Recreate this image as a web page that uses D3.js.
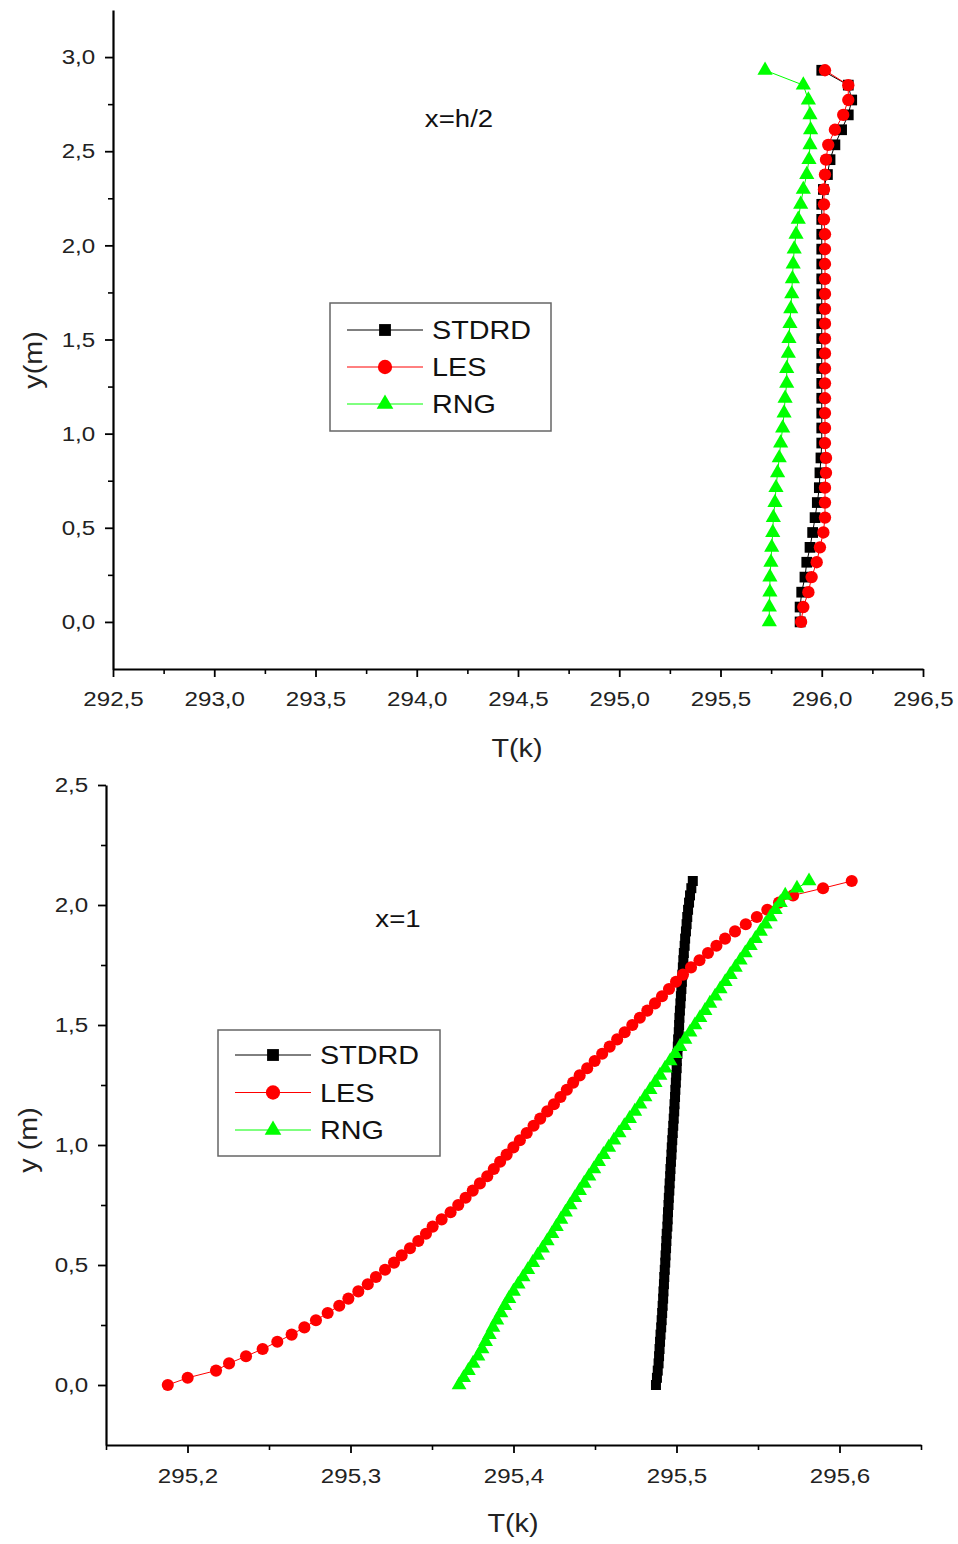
<!DOCTYPE html>
<html><head><meta charset="utf-8">
<script src="https://cdn.jsdelivr.net/npm/d3@7"></script>
<style>
body{margin:0;background:#fff}
svg{display:block}
text{font-family:"Liberation Sans",Arial,sans-serif}
</style>
</head><body>
<svg id="c" width="958" height="1544"></svg>
<script>
// ---------- data ----------
const seriesNames = ["STDRD", "LES", "RNG"];
const seriesColors = ["#000000", "#ff0000", "#00ff00"];

// top panel (x = h/2)
const topY = [0, 0.079, 0.158, 0.238, 0.317, 0.396, 0.475, 0.554, 0.634, 0.713, 0.792, 0.871, 0.950, 1.030, 1.109, 1.188, 1.267, 1.346, 1.426, 1.505, 1.584, 1.663, 1.742, 1.822, 1.901, 1.980, 2.059, 2.138, 2.218, 2.297, 2.376, 2.455, 2.534, 2.614, 2.693, 2.772, 2.851, 2.930];
const topSTDRD = [295.893, 295.893, 295.901, 295.917, 295.926, 295.942, 295.955, 295.967, 295.978, 295.988, 295.991, 295.996, 296.000, 296.000, 296.000, 296.000, 296.000, 296.000, 296.000, 296.000, 296.000, 296.000, 296.000, 296.000, 296.000, 296.000, 296.000, 296.000, 296.000, 296.008, 296.028, 296.041, 296.065, 296.098, 296.131, 296.148, 296.131, 296.000];
const topLES = [295.898, 295.909, 295.934, 295.950, 295.975, 295.991, 296.008, 296.016, 296.016, 296.016, 296.021, 296.021, 296.016, 296.016, 296.016, 296.016, 296.016, 296.016, 296.016, 296.016, 296.016, 296.016, 296.016, 296.016, 296.016, 296.016, 296.016, 296.011, 296.011, 296.011, 296.016, 296.021, 296.032, 296.065, 296.106, 296.131, 296.131, 296.016];
const topRNG = [295.741, 295.741, 295.744, 295.744, 295.749, 295.753, 295.758, 295.761, 295.769, 295.774, 295.782, 295.790, 295.797, 295.807, 295.814, 295.819, 295.827, 295.827, 295.835, 295.838, 295.843, 295.847, 295.852, 295.855, 295.859, 295.864, 295.873, 295.884, 295.896, 295.909, 295.926, 295.937, 295.942, 295.945, 295.942, 295.934, 295.909, 295.720];
const topXTicks = [292.5, 293.0, 293.5, 294.0, 294.5, 295.0, 295.5, 296.0, 296.5];
const topXMinor = [292.75, 293.25, 293.75, 294.25, 294.75, 295.25, 295.75, 296.25];
const topYTicks = [0.0, 0.5, 1.0, 1.5, 2.0, 2.5, 3.0];
const topYMinor = [0.25, 0.75, 1.25, 1.75, 2.25, 2.75];

// bottom panel (x = 1)
const botY = [0, 0.03, 0.06, 0.09, 0.12, 0.15, 0.18, 0.21, 0.24, 0.27, 0.30, 0.33, 0.36, 0.39, 0.42, 0.45, 0.48, 0.51, 0.54, 0.57, 0.60, 0.63, 0.66, 0.69, 0.72, 0.75, 0.78, 0.81, 0.84, 0.87, 0.90, 0.93, 0.96, 0.99, 1.02, 1.05, 1.08, 1.11, 1.14, 1.17, 1.20, 1.23, 1.26, 1.29, 1.32, 1.35, 1.38, 1.41, 1.44, 1.47, 1.50, 1.53, 1.56, 1.59, 1.62, 1.65, 1.68, 1.71, 1.74, 1.77, 1.80, 1.83, 1.86, 1.89, 1.92, 1.95, 1.98, 2.01, 2.04, 2.07, 2.10];
const botSTDRD = [295.4874, 295.4880, 295.4885, 295.4890, 295.4893, 295.4896, 295.4899, 295.4902, 295.4906, 295.4909, 295.4912, 295.4915, 295.4918, 295.4920, 295.4923, 295.4925, 295.4928, 295.4931, 295.4933, 295.4936, 295.4938, 295.4940, 295.4944, 295.4946, 295.4948, 295.4951, 295.4953, 295.4956, 295.4958, 295.4961, 295.4963, 295.4966, 295.4969, 295.4971, 295.4974, 295.4977, 295.4980, 295.4983, 295.4986, 295.4988, 295.4991, 295.4993, 295.4996, 295.4998, 295.5001, 295.5002, 295.5006, 295.5008, 295.5010, 295.5014, 295.5016, 295.5018, 295.5021, 295.5024, 295.5027, 295.5030, 295.5033, 295.5036, 295.5039, 295.5042, 295.5045, 295.5050, 295.5053, 295.5058, 295.5062, 295.5066, 295.5071, 295.5077, 295.5083, 295.5091, 295.5100];
const botLES = [295.1879, 295.2001, 295.2175, 295.2255, 295.2359, 295.2461, 295.2551, 295.2639, 295.2717, 295.2788, 295.2860, 295.2931, 295.2987, 295.3048, 295.3106, 295.3156, 295.3212, 295.3267, 295.3314, 295.3365, 295.3416, 295.3463, 295.3504, 295.3559, 295.3614, 295.3661, 295.3706, 295.3750, 295.3794, 295.3839, 295.3879, 295.3918, 295.3958, 295.3999, 295.4039, 295.4081, 295.4123, 295.4164, 295.4207, 295.4248, 295.4288, 295.4327, 295.4366, 295.4406, 295.4452, 295.4498, 295.4544, 295.4590, 295.4636, 295.4682, 295.4729, 295.4775, 295.4821, 295.4868, 295.4911, 295.4954, 295.4997, 295.5040, 295.5089, 295.5141, 295.5193, 295.5245, 295.5298, 295.5359, 295.5425, 295.5493, 295.5557, 295.5629, 295.5715, 295.5899, 295.6075];
const botRNG = [295.3666, 295.3694, 295.3723, 295.3752, 295.3782, 295.3807, 295.3829, 295.3852, 295.3874, 295.3898, 295.3923, 295.3947, 295.3972, 295.4000, 295.4029, 295.4059, 295.4088, 295.4118, 295.4148, 295.4178, 295.4207, 295.4236, 295.4263, 295.4291, 295.4319, 295.4348, 295.4376, 295.4405, 295.4434, 295.4463, 295.4493, 295.4522, 295.4552, 295.4584, 295.4616, 295.4648, 295.4680, 295.4712, 295.4744, 295.4776, 295.4807, 295.4838, 295.4869, 295.4899, 295.4930, 295.4961, 295.4991, 295.5021, 295.5052, 295.5083, 295.5113, 295.5144, 295.5175, 295.5205, 295.5237, 295.5268, 295.5299, 295.5330, 295.5361, 295.5391, 295.5422, 295.5453, 295.5484, 295.5515, 295.5545, 295.5576, 295.5606, 295.5637, 295.5667, 295.5739, 295.5813];
const botXTicks = [295.2, 295.3, 295.4, 295.5, 295.6];
const botXMinor = [295.15, 295.25, 295.35, 295.45, 295.55, 295.65];
const botYTicks = [0.0, 0.5, 1.0, 1.5, 2.0, 2.5];
const botYMinor = [0.25, 0.75, 1.25, 1.75, 2.25];

const xTitle = "T(k)";
const topYTitle = "y(m)";
const botYTitle = "y (m)";
const topLabel = "x=h/2";
const botLabel = "x=1";

// ---------- drawing ----------
const svg = d3.select("#c");
svg.append("rect").attr("width", 958).attr("height", 1544).attr("fill", "#fff");
const fmt = v => d3.format(".1f")(v).replace(".", ",");
const SX = 1.15;           // horizontal stretch of glyphs in the reference
const INK = "#222";
const symbols = [d3.symbolSquare, d3.symbolCircle, d3.symbolTriangle];

function stretchText(sel) {
  sel.each(function () {
    const t = d3.select(this);
    const x = +t.attr("x") || 0, y = +t.attr("y") || 0;
    t.attr("x", 0).attr("y", 0).attr("transform", `translate(${x},${y}) scale(${SX},1)`);
  });
}

function panel(cfg) {
  const x = d3.scaleLinear().domain(cfg.xDomain).range(cfg.xRange);
  const y = d3.scaleLinear().domain(cfg.yDomain).range(cfg.yRange);
  const g = svg.append("g");
  const x0 = cfg.xRange[0], y0 = cfg.yRange[0];

  // minor ticks
  g.append("g").attr("transform", `translate(0,${y0})`)
    .call(d3.axisBottom(x).tickValues(cfg.xMinor).tickSize(5).tickFormat("").tickSizeOuter(0))
    .call(s => s.select(".domain").remove())
    .call(s => s.selectAll("line").attr("stroke", "#000").attr("stroke-width", 1.6));
  g.append("g").attr("transform", `translate(${x0},0)`)
    .call(d3.axisLeft(y).tickValues(cfg.yMinor).tickSize(5).tickFormat("").tickSizeOuter(0))
    .call(s => s.select(".domain").remove())
    .call(s => s.selectAll("line").attr("stroke", "#000").attr("stroke-width", 1.6));

  // major axes
  const ax = g.append("g").attr("transform", `translate(0,${y0})`)
    .call(d3.axisBottom(x).tickValues(cfg.xTicks).tickFormat(fmt).tickSize(8).tickPadding(cfg.xPad).tickSizeOuter(0));
  const ay = g.append("g").attr("transform", `translate(${x0},0)`)
    .call(d3.axisLeft(y).tickValues(cfg.yTicks).tickFormat(fmt).tickSize(8).tickPadding(7.5).tickSizeOuter(0));
  [ax, ay].forEach(a => {
    a.select(".domain").attr("stroke", "#000").attr("stroke-width", 2.2);
    a.selectAll(".tick line").attr("stroke", "#000").attr("stroke-width", 1.8);
    a.selectAll(".tick text").attr("fill", INK).style("font-size", "21px")
      .attr("font-family", '"Liberation Sans", Arial, sans-serif');
  });
  ax.selectAll(".tick text").attr("transform", `scale(${SX},1)`);
  ay.selectAll(".tick text").attr("transform", `scale(${SX},1)`);

  // series
  const vals = [cfg.s0, cfg.s1, cfg.s2];
  vals.forEach((arr, i) => {
    const pts = arr.map((v, j) => [v, cfg.yVals[j]]);
    g.append("path").datum(pts)
      .attr("d", d3.line().x(d => x(d[0])).y(d => y(d[1])))
      .attr("fill", "none").attr("stroke", seriesColors[i]).attr("stroke-width", 1);
    g.append("g").selectAll("path").data(pts).join("path")
      .attr("transform", d => `translate(${x(d[0])},${y(d[1])})`)
      .attr("d", d3.symbol(symbols[i], cfg.msize[i]))
      .attr("fill", seriesColors[i]);
  });

  // axis titles
  const tx = g.append("text").attr("x", cfg.xTitlePos[0]).attr("y", cfg.xTitlePos[1])
    .attr("text-anchor", "middle").attr("fill", INK).style("font-size", "25px").text(xTitle);
  stretchText(tx);
  g.append("text")
    .attr("transform", `translate(${cfg.yTitlePos[0]},${cfg.yTitlePos[1]}) rotate(-90) scale(${SX},1)`)
    .attr("text-anchor", "middle").attr("dy", "0.35em").attr("fill", INK)
    .style("font-size", "25px").text(cfg.yTitle);

  // annotation
  const an = g.append("text").attr("x", cfg.labelPos[0]).attr("y", cfg.labelPos[1])
    .attr("dy", "0.36em").attr("text-anchor", "middle").attr("fill", "#111")
    .style("font-size", "24px").text(cfg.label);
  stretchText(an);

  // legend
  const L = cfg.legend;
  const lg = g.append("g");
  lg.append("rect").attr("x", L.x).attr("y", L.y).attr("width", L.w).attr("height", L.h)
    .attr("fill", "#fff").attr("stroke", "#666").attr("stroke-width", 1.5);
  seriesNames.forEach((name, i) => {
    const ry = L.y + L.row0 + i * L.dy;
    lg.append("line").attr("x1", L.x + 17).attr("x2", L.x + 93).attr("y1", ry).attr("y2", ry)
      .attr("stroke", seriesColors[i]).attr("stroke-width", 1);
    lg.append("path").attr("transform", `translate(${L.x + 55},${ry})`)
      .attr("d", d3.symbol(symbols[i], L.msize[i])).attr("fill", seriesColors[i]);
    const t = lg.append("text").attr("x", L.x + 102).attr("y", ry).attr("dy", "0.36em")
      .attr("fill", "#111").style("font-size", "25px").text(name);
    stretchText(t);
  });
}

panel({
  xDomain: [292.5, 296.5], xRange: [113, 923],
  yDomain: [-0.25, 3.25], yRange: [669, 10],
  xTicks: topXTicks, xMinor: topXMinor, yTicks: topYTicks, yMinor: topYMinor,
  xPad: 14,
  yVals: topY, s0: topSTDRD, s1: topLES, s2: topRNG,
  msize: [115, 120, 100],
  xTitlePos: [517, 757], yTitlePos: [33, 360], yTitle: topYTitle,
  label: topLabel, labelPos: [459, 118],
  legend: { x: 330, y: 303, w: 221, h: 128, row0: 27, dy: 37, msize: [140, 160, 120] }
});

panel({
  xDomain: [295.15, 295.65], xRange: [106, 921],
  yDomain: [-0.25, 2.5], yRange: [1445, 785],
  xTicks: botXTicks, xMinor: botXMinor, yTicks: botYTicks, yMinor: botYMinor,
  xPad: 15,
  yVals: botY, s0: botSTDRD, s1: botLES, s2: botRNG,
  msize: [100, 115, 95],
  xTitlePos: [513, 1532], yTitlePos: [28, 1140], yTitle: botYTitle,
  label: botLabel, labelPos: [398, 918],
  legend: { x: 218, y: 1030, w: 222, h: 126, row0: 25, dy: 37.5, msize: [140, 160, 120] }
});
</script>
</body></html>
